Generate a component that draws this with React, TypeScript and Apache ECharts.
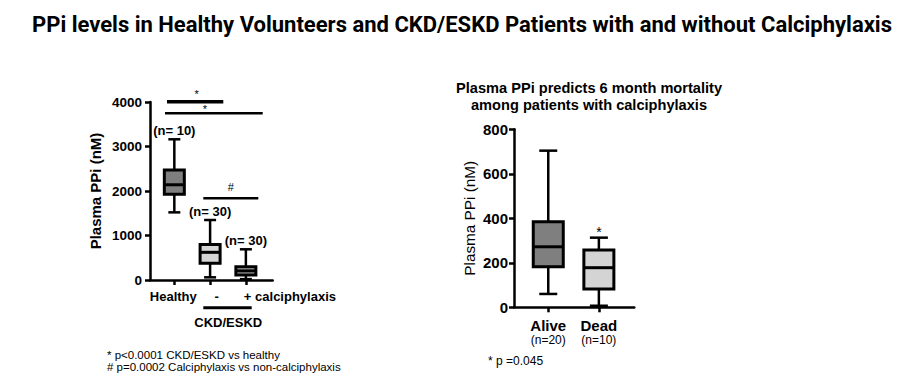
import React, { useEffect, useRef } from "react";
import * as echarts from "echarts";

// ---- Left chart data ----
const leftCategories = ["Healthy", "-", "+ calciphylaxis"];
const leftCounts = ["(n= 10)", "(n= 30)", "(n= 30)"];
const leftMin = [1520, 60, 20];
const leftQ1 = [1926, 375, 112];
const leftMedian = [2140, 622, 205];
const leftQ3 = [2470, 800, 300];
const leftMax = [3162, 1348, 690];
const leftTicks = [0, 1000, 2000, 3000, 4000];

// ---- Right chart data ----
const rightCategories = ["Alive", "Dead"];
const rightCounts = ["(n=20)", "(n=10)"];
const rightMarks = ["", "*"];
const rightMin = [60, 7];
const rightQ1 = [182, 82];
const rightMedian = [272, 178];
const rightQ3 = [385, 258];
const rightMax = [704, 313];
const rightTicks = [0, 200, 400, 600, 800];

const FONT = "'Liberation Sans', Arial, sans-serif";

type RenderOpts = {
  boxW: number;
  capW: number;
  fills: string[];
  labels: string[];
  labelAlign: string[];
  labelDx: number[];
  labelSize: number;
  labelDy: number;
  subLabels?: string[];
  subSize?: number;
  subDy?: number;
  notes: string[];
  noteSize: number;
  noteBold: boolean;
  noteGap: number;
};

function makeRender(o: RenderOpts) {
  return (params: any, api: any) => {
    const i = params.dataIndex;
    const x = api.value(0);
    const [cx, yMin] = api.coord([x, api.value(1)]);
    const yQ1 = api.coord([x, api.value(2)])[1];
    const yMed = api.coord([x, api.value(3)])[1];
    const yQ3 = api.coord([x, api.value(4)])[1];
    const yMax = api.coord([x, api.value(5)])[1];
    const yZero = api.coord([x, 0])[1];
    const lineStyle = { stroke: "#000", lineWidth: 2.5 };
    const children: any[] = [
      { type: "line", shape: { x1: cx, y1: yQ3, x2: cx, y2: yMax }, style: lineStyle },
      { type: "line", shape: { x1: cx, y1: yQ1, x2: cx, y2: yMin }, style: lineStyle },
      { type: "line", shape: { x1: cx - o.capW / 2, y1: yMax, x2: cx + o.capW / 2, y2: yMax }, style: lineStyle },
      { type: "line", shape: { x1: cx - o.capW / 2, y1: yMin, x2: cx + o.capW / 2, y2: yMin }, style: lineStyle },
      {
        type: "rect",
        shape: { x: cx - o.boxW / 2, y: yQ3, width: o.boxW, height: yQ1 - yQ3 },
        style: { fill: o.fills[i], stroke: "#000", lineWidth: 3 },
      },
      {
        type: "line",
        shape: { x1: cx - o.boxW / 2, y1: yMed, x2: cx + o.boxW / 2, y2: yMed },
        style: { stroke: "#000", lineWidth: 3 },
      },
      {
        type: "text",
        style: {
          text: o.labels[i],
          x: cx + o.labelDx[i],
          y: yZero + o.labelDy,
          align: o.labelAlign[i],
          verticalAlign: "middle",
          fontSize: o.labelSize,
          fontWeight: "bold",
          fontFamily: FONT,
          fill: "#000",
        },
      },
    ];
    if (o.subLabels) {
      children.push({
        type: "text",
        style: {
          text: o.subLabels[i],
          x: cx,
          y: yZero + (o.subDy || 0),
          align: "center",
          verticalAlign: "middle",
          fontSize: o.subSize,
          fontFamily: FONT,
          fill: "#000",
        },
      });
    }
    if (o.notes[i]) {
      children.push({
        type: "text",
        style: {
          text: o.notes[i],
          x: cx,
          y: yMax - o.noteGap,
          align: "center",
          verticalAlign: "bottom",
          fontSize: o.noteSize,
          fontWeight: o.noteBold ? "bold" : "normal",
          fontFamily: FONT,
          fill: "#000",
        },
      });
    }
    return { type: "group", children };
  };
}

export default function App() {
  const ref = useRef<HTMLDivElement>(null);
  useEffect(() => {
    if (!ref.current) return;
    const chart = echarts.init(ref.current, undefined, { renderer: "svg" });
    const axisLine = { show: true, onZero: false, lineStyle: { color: "#000", width: 2.5 } };
    const axisTick = { show: true, length: 5, lineStyle: { color: "#000", width: 2.5 } };
    const leftData = leftCategories.map((_, i) => [i, leftMin[i], leftQ1[i], leftMedian[i], leftQ3[i], leftMax[i]]);
    const rightData = rightCategories.map((_, i) => [i, rightMin[i], rightQ1[i], rightMedian[i], rightQ3[i], rightMax[i]]);
    const plain = (v: number) => String(v);

    chart.setOption({
      animation: false,
      backgroundColor: "#fff",
      title: [
        {
          text: "PPi levels in Healthy Volunteers and CKD/ESKD Patients with and without Calciphylaxis",
          left: 457,
          top: 8,
          textAlign: "center",
          textStyle: { fontFamily: "Roboto, sans-serif", fontWeight: "bold", fontSize: 22, color: "#000" },
        },
        {
          text: "Plasma PPi predicts 6 month mortality\namong patients with calciphylaxis",
          left: 584,
          top: 74,
          textAlign: "center",
          textStyle: { fontFamily: FONT, fontWeight: "bold", fontSize: 14.6, lineHeight: 17.5, color: "#000" },
        },
      ],
      grid: [
        { left: 150, top: 102, width: 122.7, height: 178 },
        { left: 514, top: 129.3, width: 120.3, height: 178 },
      ],
      xAxis: [
        {
          type: "value",
          gridIndex: 0,
          min: -0.68,
          max: 2.75,
          splitLine: { show: false },
          axisLine,
          axisTick: { ...axisTick, customValues: leftCategories.map((_, i) => i) },
          axisLabel: { show: false },
        },
        {
          type: "value",
          gridIndex: 1,
          min: -0.677,
          max: 1.7,
          splitLine: { show: false },
          axisLine,
          axisTick: { ...axisTick, customValues: rightCategories.map((_, i) => i) },
          axisLabel: { show: false },
        },
      ],
      yAxis: [
        {
          type: "value",
          gridIndex: 0,
          min: leftTicks[0],
          max: leftTicks[leftTicks.length - 1],
          interval: leftTicks[1] - leftTicks[0],
          splitLine: { show: false },
          axisLine,
          axisTick,
          axisLabel: { color: "#000", fontWeight: "bold", fontSize: 13.5, fontFamily: FONT, margin: 8, formatter: plain },
          name: "Plasma PPi (nM)",
          nameLocation: "middle",
          nameGap: 47,
          nameTextStyle: { color: "#000", fontWeight: "bold", fontSize: 15, fontFamily: FONT },
        },
        {
          type: "value",
          gridIndex: 1,
          min: rightTicks[0],
          max: rightTicks[rightTicks.length - 1],
          interval: rightTicks[1] - rightTicks[0],
          splitLine: { show: false },
          axisLine,
          axisTick,
          axisLabel: { color: "#000", fontWeight: "bold", fontSize: 15, fontFamily: FONT, margin: 6, formatter: plain },
          name: "Plasma PPi (nM)",
          nameLocation: "middle",
          nameGap: 37,
          nameTextStyle: { color: "#000", fontSize: 15.3, fontFamily: FONT },
        },
      ],
      series: [
        {
          type: "custom",
          xAxisIndex: 0,
          yAxisIndex: 0,
          clip: false,
          encode: { x: 0, y: [1, 2, 3, 4, 5] },
          data: leftData,
          renderItem: makeRender({
            boxW: 20,
            capW: 12,
            fills: ["#7f7f7f", "#d4d4d4", "#a8a8a8"],
            labels: leftCategories,
            labelAlign: ["center", "center", "left"],
            labelDx: [-1, 6.5, -2],
            labelSize: 13,
            labelDy: 16.7,
            notes: leftCounts,
            noteSize: 13,
            noteBold: true,
            noteGap: 2,
          }),
        },
        {
          type: "custom",
          xAxisIndex: 1,
          yAxisIndex: 1,
          clip: false,
          encode: { x: 0, y: [1, 2, 3, 4, 5] },
          data: rightData,
          renderItem: makeRender({
            boxW: 30,
            capW: 18,
            fills: ["#7f7f7f", "#d4d4d4"],
            labels: rightCategories,
            labelAlign: ["center", "center"],
            labelDx: [0, 0],
            labelSize: 15,
            labelDy: 17.7,
            subLabels: rightCounts,
            subSize: 12,
            subDy: 33,
            notes: rightMarks,
            noteSize: 14,
            noteBold: false,
            noteGap: -1,
          }),
        },
      ],
      graphic: [
        { type: "line", shape: { x1: 167, y1: 101.7, x2: 223.3, y2: 101.7 }, style: { stroke: "#000", lineWidth: 3.5 } },
        { type: "text", x: 196.7, y: 94, style: { text: "*", align: "center", verticalAlign: "middle", fontSize: 11, fontFamily: FONT, fill: "#000" } },
        { type: "line", shape: { x1: 165, y1: 113.3, x2: 262.7, y2: 113.3 }, style: { stroke: "#000", lineWidth: 2.5 } },
        { type: "text", x: 205, y: 108.5, style: { text: "*", align: "center", verticalAlign: "middle", fontSize: 11, fontFamily: FONT, fill: "#000" } },
        { type: "line", shape: { x1: 203.3, y1: 198.3, x2: 258.3, y2: 198.3 }, style: { stroke: "#000", lineWidth: 2.5 } },
        { type: "text", x: 230.7, y: 187, style: { text: "#", align: "center", verticalAlign: "middle", fontSize: 11, fontFamily: FONT, fill: "#000" } },
        { type: "line", shape: { x1: 203.3, y1: 307.7, x2: 251.7, y2: 307.7 }, style: { stroke: "#000", lineWidth: 3 } },
        { type: "text", x: 228.3, y: 322.3, style: { text: "CKD/ESKD", align: "center", verticalAlign: "middle", fontSize: 13, fontWeight: "bold", fontFamily: FONT, fill: "#000" } },
        { type: "text", x: 107, y: 355, style: { text: "* p<0.0001 CKD/ESKD vs healthy", align: "left", verticalAlign: "middle", fontSize: 11.5, fontFamily: FONT, fill: "#000" } },
        { type: "text", x: 107, y: 367, style: { text: "# p=0.0002 Calciphylaxis vs non-calciphylaxis", align: "left", verticalAlign: "middle", fontSize: 11.5, fontFamily: FONT, fill: "#000" } },
        { type: "text", x: 488, y: 361, style: { text: "* p =0.045", align: "left", verticalAlign: "middle", fontSize: 12, fontFamily: FONT, fill: "#000" } },
      ],
    });
    return () => chart.dispose();
  }, []);
  return (
    <div
      ref={ref}
      style={{ position: "fixed", left: 0, top: 0, width: 919, height: 389, background: "#fff" }}
    />
  );
}
